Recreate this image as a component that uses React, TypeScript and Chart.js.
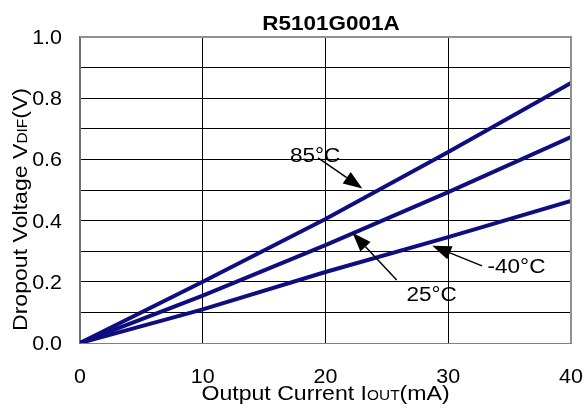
import React, { useEffect, useRef } from "react";
import { Chart, registerables } from "chart.js";

Chart.register(...registerables);

// Output current (mA)
const currents = [0, 10, 20, 30, 40];
// Dropout voltage (V) per temperature
const vdif85 = [0, 0.2, 0.405, 0.624, 0.85];
const vdif25 = [0, 0.155, 0.32, 0.493, 0.673];
const vdifM40 = [0, 0.11, 0.232, 0.346, 0.464];

const xTicks = [0, 10, 20, 30, 40];
const yTicks = [0, 0.2, 0.4, 0.6, 0.8, 1.0];

// Callouts: label position and arrow (tail -> head), in data units
const callouts = [
  { text: "85°C", tx: 17.1, ty: 0.59, from: [19.4, 0.605], to: [23.0, 0.505] },
  { text: "25°C", tx: 26.6, ty: 0.137, from: [25.8, 0.206], to: [22.2, 0.36] },
  { text: "-40°C", tx: 33.2, ty: 0.229, from: [32.75, 0.252], to: [28.7, 0.318] },
];

const FONT = "'Liberation Sans', Arial, sans-serif";
const LINE = "#0e0e80";
const STRETCH = 1.1;

type Part = [string, boolean];

// Draws a run of text pieces (normal / subscript) with a slight horizontal stretch.
function drawParts(
  ctx: CanvasRenderingContext2D,
  parts: Part[],
  x: number,
  y: number,
  size: number,
  align: "left" | "center" | "right",
  bold = false,
  stretch = STRETCH
) {
  const subSize = Math.round(size * 0.68);
  const fontFor = (sub: boolean) => `${bold ? "bold " : ""}${sub ? subSize : size}px ${FONT}`;
  let w = 0;
  for (const [s, sub] of parts) {
    ctx.font = fontFor(sub);
    w += ctx.measureText(s).width;
  }
  w *= stretch;
  let start = x;
  if (align === "center") start = x - w / 2;
  if (align === "right") start = x - w;
  ctx.save();
  ctx.translate(start, y);
  ctx.scale(stretch, 1);
  ctx.textAlign = "left";
  ctx.textBaseline = "alphabetic";
  let cx = 0;
  for (const [s, sub] of parts) {
    ctx.font = fontFor(sub);
    ctx.fillText(s, cx, 0);
    cx += ctx.measureText(s).width;
  }
  ctx.restore();
}

const textPlugin = {
  id: "texts",
  afterDraw(chart: any) {
    const { ctx, scales } = chart;
    const xs = scales.x;
    const ys = scales.y;
    ctx.save();
    ctx.fillStyle = "#000";

    // chart title
    drawParts(ctx, [["R5101G001A", false]], 331, 30, 21, "center", true, 1.07);

    // tick labels
    for (const v of xTicks) {
      drawParts(ctx, [[String(v), false]], xs.getPixelForValue(v), 383, 19.5, "center");
    }
    for (const v of yTicks) {
      drawParts(ctx, [[v.toFixed(1), false]], 62, ys.getPixelForValue(v) + 7, 19.5, "right");
    }

    // axis titles
    drawParts(
      ctx,
      [["Output Current I", false], ["OUT", true], ["(mA)", false]],
      325.5,
      400,
      21,
      "center"
    );
    ctx.save();
    ctx.translate(27, 209.5);
    ctx.rotate(-Math.PI / 2);
    drawParts(
      ctx,
      [["Dropout Voltage V", false], ["DIF", true], ["(V)", false]],
      0,
      0,
      21,
      "center"
    );
    ctx.restore();

    // callouts
    for (const c of callouts) {
      drawParts(ctx, [[c.text, false]], xs.getPixelForValue(c.tx), ys.getPixelForValue(c.ty), 20.5, "left");
      const x1 = xs.getPixelForValue(c.from[0]);
      const y1 = ys.getPixelForValue(c.from[1]);
      const x2 = xs.getPixelForValue(c.to[0]);
      const y2 = ys.getPixelForValue(c.to[1]);
      const ang = Math.atan2(y2 - y1, x2 - x1);
      const hl = 19;
      const hw = 7;
      const bx = x2 - hl * Math.cos(ang);
      const by = y2 - hl * Math.sin(ang);
      ctx.strokeStyle = "#000";
      ctx.lineWidth = 1.5;
      ctx.beginPath();
      ctx.moveTo(x1, y1);
      ctx.lineTo(bx, by);
      ctx.stroke();
      ctx.beginPath();
      ctx.moveTo(x2, y2);
      ctx.lineTo(bx + hw * Math.sin(ang), by - hw * Math.cos(ang));
      ctx.lineTo(bx - hw * Math.sin(ang), by + hw * Math.cos(ang));
      ctx.closePath();
      ctx.fill();
    }
    ctx.restore();
  },
};

const framePlugin = {
  id: "frame",
  afterDatasetsDraw(c: any) {
    const { ctx, chartArea: a } = c;
    ctx.save();
    ctx.strokeStyle = "#909090";
    ctx.lineWidth = 2;
    ctx.beginPath();
    ctx.moveTo(a.left, a.top);
    ctx.lineTo(a.right, a.top);
    ctx.lineTo(a.right, a.bottom);
    ctx.stroke();
    ctx.restore();
  },
};

export default function App() {
  const ref = useRef<HTMLCanvasElement>(null);
  useEffect(() => {
    if (!ref.current) return;
    const mk = (label: string, data: number[]) => ({
      label,
      data: currents.map((x, i) => ({ x, y: data[i] })),
      borderColor: LINE,
      borderWidth: 4,
      pointRadius: 0,
      fill: false,
      tension: 0,
    });
    const chart = new Chart(ref.current, {
      type: "line",
      data: {
        datasets: [mk("85°C", vdif85), mk("25°C", vdif25), mk("-40°C", vdifM40)],
      },
      options: {
        responsive: false,
        animation: false,
        layout: { padding: { top: 37, right: 13, left: 0, bottom: 0 } },
        plugins: { legend: { display: false }, tooltip: { enabled: false }, title: { display: false } },
        scales: {
          x: {
            type: "linear",
            min: 0,
            max: 40,
            ticks: { stepSize: 10, display: false },
            grid: { color: "#000", lineWidth: 1, drawTicks: false },
            border: { color: "#808080", width: 1 },
            afterFit: (s: any) => {
              s.height = 67;
              s.paddingLeft = 0;
              s.paddingRight = 0;
            },
          },
          y: {
            type: "linear",
            min: 0,
            max: 1.0,
            ticks: { stepSize: 0.1, display: false },
            grid: { color: "#000", lineWidth: 1, drawTicks: false },
            border: { color: "#707070", width: 2 },
            afterFit: (s: any) => {
              s.width = 80;
              s.paddingTop = 0;
              s.paddingBottom = 0;
            },
          },
        },
      },
      plugins: [textPlugin, framePlugin],
    } as any);
    return () => chart.destroy();
  }, []);
  return (
    <div style={{ position: "absolute", left: 0, top: 0, width: 584, height: 410, background: "#fff" }}>
      <canvas ref={ref} width={584} height={410} />
    </div>
  );
}
